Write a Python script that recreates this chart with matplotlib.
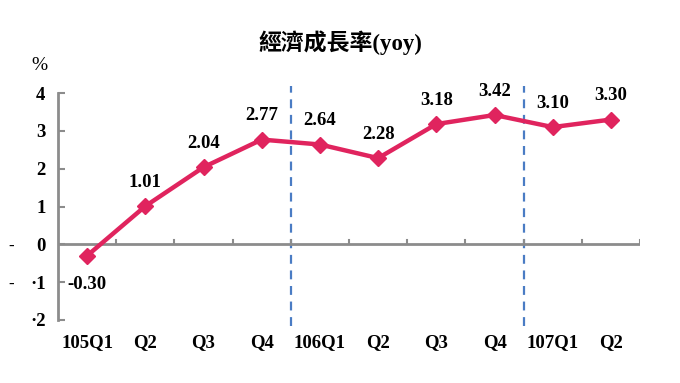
import matplotlib.pyplot as plt
import matplotlib.transforms as mtransforms

# data
quarters = ["105Q1", "Q2", "Q3", "Q4", "106Q1", "Q2", "Q3", "Q4", "107Q1", "Q2"]
growth = [-0.30, 1.01, 2.04, 2.77, 2.64, 2.28, 3.18, 3.42, 3.10, 3.30]
yticks = [4, 3, 2, 1, 0, -1, -2]
ytick_labels = ["4", "3", "2", "1", "0", "·1", "·2"]
year_breaks = [3.5, 7.5]

serif = ["Liberation Serif", "Noto Sans CJK TC"]
gray = "#8c8c8c"
red = "#e0245e"

fig = plt.figure(figsize=(6.8, 3.83), dpi=100)
ax = fig.add_axes([0.0853, 0.1645, 0.856, 0.5925])

x = list(range(len(growth)))
ax.plot(x, growth, color=red, lw=3.2, marker="D", ms=8.5, zorder=3)

for i, v in enumerate(growth):
    dy = -21 if v < 0 else 17
    ax.annotate(f"{v:.2f}", (i, v), xytext=(0, dy), textcoords="offset points",
                ha="center", va="center", fontsize=13.5, fontweight="bold",
                family=serif)

ax.set_xlim(-0.5, len(growth) - 0.5)
ax.set_ylim(-2, 4)

# spines: left axis and zero line
for s in ["top", "right", "bottom"]:
    ax.spines[s].set_visible(False)
ax.spines["left"].set_color(gray)
ax.spines["left"].set_linewidth(2)
ax.axhline(0, color=gray, lw=2, zorder=2)

# category boundary ticks on the zero line
for b in range(1, len(growth) + 1):
    ax.plot([b - 0.5, b - 0.5], [0, 0.12], color=gray, lw=1.5, zorder=2)

ax.set_yticks(yticks)
ax.set_yticklabels(ytick_labels, family=serif, fontsize=13.5, fontweight="bold")
ax.tick_params(axis="y", direction="in", length=5, width=1.5, color=gray, pad=9)
ax.set_xticks([])

trans = mtransforms.blended_transform_factory(ax.transData, ax.transAxes)
for i, q in enumerate(quarters):
    ax.text(i, -0.1, q, transform=trans, ha="center", va="center",
            fontsize=13.5, fontweight="bold", family=serif)

for b in year_breaks:
    ax.plot([b, b], [-2.15, 4.2], color="#4a7cc4", lw=1.6, ls=(0, (4, 3)),
            clip_on=False, zorder=1)

# stray dashes left of the axis
fig.text(0.012, 1 - 247 / 383, "-", fontsize=12, fontweight="bold", family=serif, va="center")
fig.text(0.012, 1 - 285 / 383, "-", fontsize=12, fontweight="bold", family=serif, va="center")

fig.text(0.058, 1 - 66 / 383, "%", fontsize=14, family=serif, ha="center", va="center")
fig.text(0.5, 1 - 43 / 383, "經濟成長率(yoy)", fontsize=16.5, fontweight="bold",
         family=serif, ha="center", va="center")

fig.savefig("out.png", dpi=100)
